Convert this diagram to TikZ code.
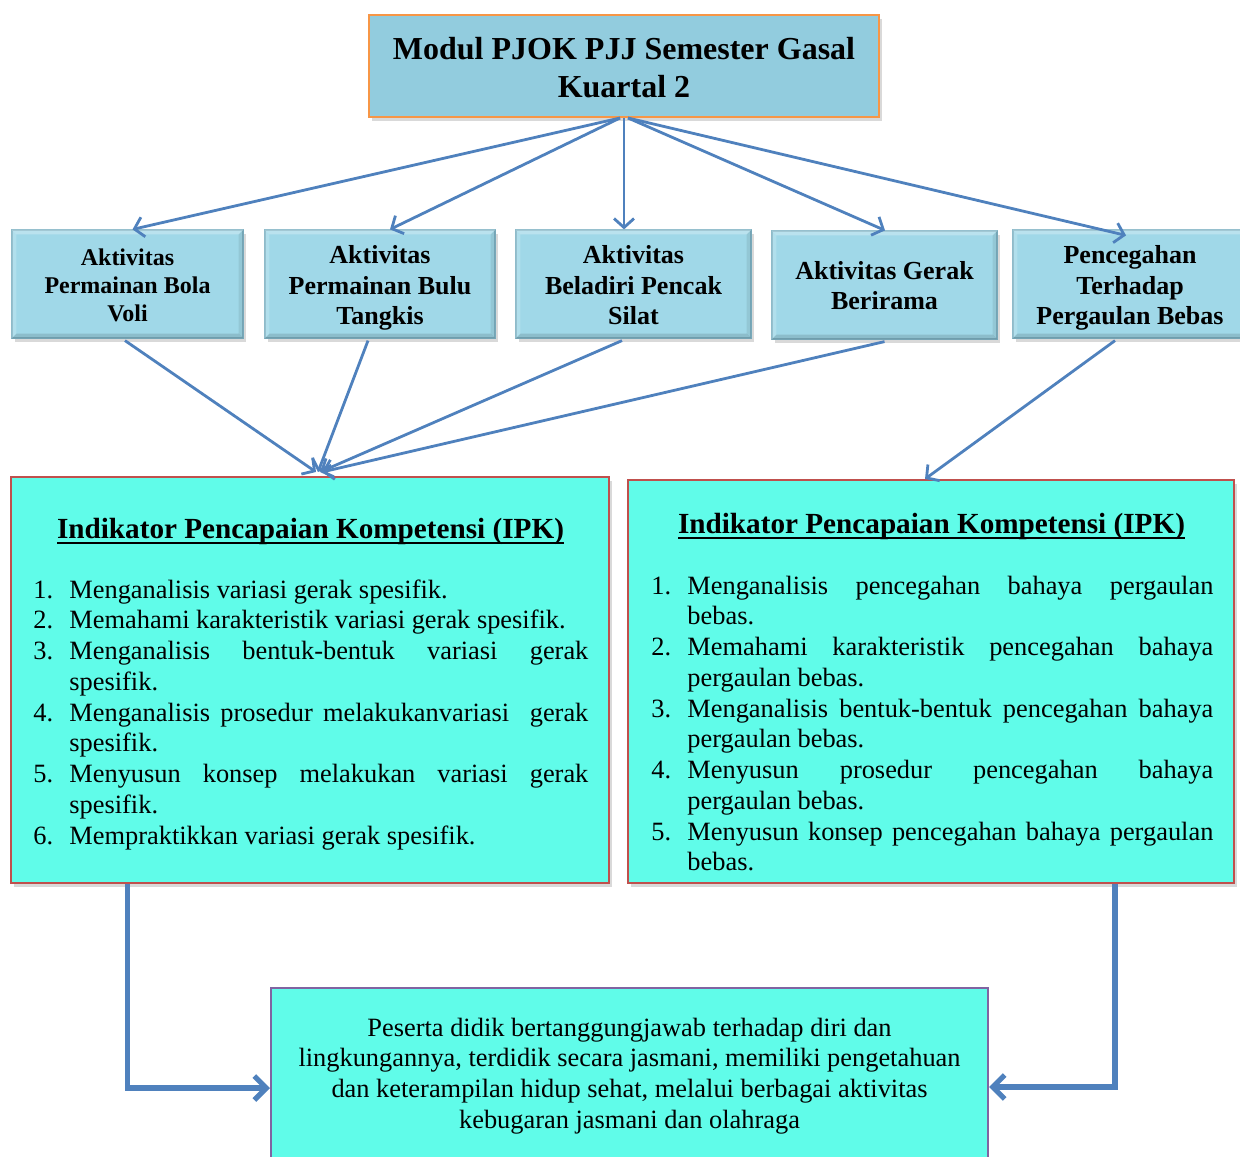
\documentclass[tikz,border=0pt]{standalone}
\usepackage{fontspec}
\setmainfont{Liberation Serif}
\usetikzlibrary{arrows.meta,shadows,calc}
\definecolor{arrowblue}{HTML}{4F81BD}
\definecolor{titlefill}{HTML}{92CCDE}
\definecolor{orangeb}{HTML}{F79646}
\definecolor{actfill}{HTML}{A0D8E8}
\definecolor{actborder}{HTML}{7FB3C4}
\definecolor{aquafill}{HTML}{60FCE9}
\definecolor{redb}{HTML}{C0504D}
\definecolor{purpleb}{HTML}{8064A2}
\newcommand\ipkOne[2]{\noindent\makebox[18pt][l]{#1}#2\par}
\newcommand\ipkTwo[3]{\noindent\makebox[18pt][l]{#1}\makebox[\ipkw][s]{#2}\par\noindent\hspace*{18pt}#3\par}
\newcommand\ipkw{259.5pt}
\newcommand\thickul[1]{\setbox0\hbox{#1}\rlap{\rule[-3.2pt]{\wd0}{1.4pt}}\box0}
\begin{document}
\begin{tikzpicture}[x=0.5pt,y=-0.5pt,
  shad/.style={drop shadow={opacity=0.3,shadow xshift=1.5pt,shadow yshift=-1.8pt}},
  titlebox/.style={shad,draw=orangeb,line width=1pt,fill=titlefill,minimum width=255pt,minimum height=51pt,inner sep=0pt},
  titletxt/.style={inner sep=0pt,align=center,font=\bfseries\fontsize{16}{19}\selectfont},
  actbox/.style={shad,draw=actborder,line width=0.6pt,fill=actfill,minimum height=54pt,inner sep=0pt},
  acttxt/.style={inner sep=0pt,align=center,font=\bfseries\fontsize{13}{15.25}\selectfont},
  ipkbox/.style={shad,draw=redb,line width=1pt,fill=aquafill,inner sep=0pt},
  outbox/.style={draw=purpleb,line width=1pt,fill=aquafill,inner sep=0pt},
  headtxt/.style={anchor=base,inner sep=0pt,font=\bfseries\fontsize{14.6}{17}\selectfont},
  listtxt/.style={anchor=base west,inner sep=0pt,font=\fontsize{13.2}{15.375}\selectfont},
  arr/.style={draw=arrowblue,line width=1.4pt,-{Straight Barb[length=4.5pt,width=10pt]}},
  thickarr/.style={draw=arrowblue,line width=2.6pt,-{Straight Barb[length=6pt,width=12pt]}}
]
\useasboundingbox (0,0) rectangle (1240,1156);

% title
\node[titlebox] (t) at (624,66) {};
\node[titletxt] (tt) at (624,68) {Modul PJOK PJJ Semester Gasal\\Kuartal 2};

% activity boxes
\node[actbox,minimum width=115.5pt] (b1) at (127.5,284) {};
\node[actbox,minimum width=115pt] (b2) at (380,284) {};
\node[actbox,minimum width=117.5pt] (b3) at (633.5,284) {};
\node[actbox,minimum width=112.5pt] (b4) at (884.5,285) {};
\node[actbox,minimum width=117pt] (b5) at (1130,284) {};

% bevel
\foreach \n in {b1,b2,b3,b4,b5}{
  \fill[white,opacity=0.28] (\n.north west) -- (\n.north east) -- ([shift={(-2.5pt,-2.5pt)}]\n.north east) -- ([shift={(2.5pt,-2.5pt)}]\n.north west) -- cycle;
  \fill[white,opacity=0.18] (\n.north west) -- (\n.south west) -- ([shift={(2.5pt,2.5pt)}]\n.south west) -- ([shift={(2.5pt,-2.5pt)}]\n.north west) -- cycle;
  \fill[black,opacity=0.12] (\n.south west) -- (\n.south east) -- ([shift={(-2.5pt,2.5pt)}]\n.south east) -- ([shift={(2.5pt,2.5pt)}]\n.south west) -- cycle;
  \fill[black,opacity=0.08] (\n.north east) -- (\n.south east) -- ([shift={(-2.5pt,2.5pt)}]\n.south east) -- ([shift={(-2.5pt,-2.5pt)}]\n.north east) -- cycle;
}

\node[acttxt,font=\bfseries\fontsize{12}{14}\selectfont] (b1t) at (127.5,285) {Aktivitas\\Permainan Bola\\Voli};
\node[acttxt] (b2t) at (380,288) {Aktivitas\\Permainan Bulu\\Tangkis};
\node[acttxt] (b3t) at (633.5,285.5) {Aktivitas\\Beladiri Pencak\\Silat};
\node[acttxt] (b4t) at (884.5,285.5) {Aktivitas Gerak\\Berirama};
\node[acttxt] (b5t) at (1130,288) {Pencegahan\\Terhadap\\Pergaulan Bebas};

% IPK boxes
\node[ipkbox,minimum width=299pt,minimum height=203pt] (ipkL) at (310,680) {};
\node[ipkbox,minimum width=303pt,minimum height=201.5pt] (ipkR) at (931,681.5) {};

\node[headtxt] (hL) at (310.5,538) {\thickul{Indikator Pencapaian Kompetensi (IPK)}};
\node[headtxt] (hR) at (931.5,533) {\thickul{Indikator Pencapaian Kompetensi (IPK)}};

\node[listtxt] (listL) at (33,598) {\begin{minipage}[t]{277.5pt}\parskip=0pt\renewcommand\ipkw{259.5pt}%
\ipkOne{1.}{Menganalisis variasi gerak spesifik.}
\ipkOne{2.}{Memahami karakteristik variasi gerak spesifik.}
\ipkTwo{3.}{Menganalisis bentuk-bentuk variasi gerak}{spesifik.}
\ipkTwo{4.}{Menganalisis prosedur melakukanvariasi\ \ gerak}{spesifik.}
\ipkTwo{5.}{Menyusun konsep melakukan variasi gerak}{spesifik.}
\ipkOne{6.}{Mempraktikkan variasi gerak spesifik.}
\end{minipage}};

\node[listtxt] (listR) at (651,594) {\begin{minipage}[t]{281pt}\parskip=0pt\renewcommand\ipkw{263pt}%
\ipkTwo{1.}{Menganalisis pencegahan bahaya pergaulan}{bebas.}
\ipkTwo{2.}{Memahami karakteristik pencegahan bahaya}{pergaulan bebas.}
\ipkTwo{3.}{Menganalisis bentuk-bentuk pencegahan bahaya}{pergaulan bebas.}
\ipkTwo{4.}{Menyusun prosedur pencegahan bahaya}{pergaulan bebas.}
\ipkTwo{5.}{Menyusun konsep pencegahan bahaya pergaulan}{bebas.}
\end{minipage}};

% bottom box
\node[outbox,minimum width=358.5pt,minimum height=91pt] (out) at (629.5,1079) {};
\node[listtxt,anchor=base] (outtxt) at (629.5,1036) {\begin{minipage}[t]{350pt}\centering
Peserta didik bertanggungjawab terhadap diri dan\\
lingkungannya, terdidik secara jasmani, memiliki pengetahuan\\
dan keterampilan hidup sehat, melalui berbagai aktivitas\\
kebugaran jasmani dan olahraga
\end{minipage}};

% arrows from title
\draw[arr] ([xshift=-2pt]t.south) -- ([xshift=2.5pt]b1.north);
\draw[arr] ([xshift=-2pt]t.south) -- ([xshift=5pt]b2.north);
\draw[arr] (t.south) -- ([xshift=-4.75pt]b3.north);
\draw[arr] ([xshift=2pt]t.south) -- ([xshift=0.25pt]b4.north);
\draw[arr] ([xshift=2pt]t.south) -- ([xshift=-2pt,yshift=-3pt]b5.north);

% arrows to IPK
\draw[arr] ([xshift=-1.25pt,yshift=-1pt]b1.south) -- ([xshift=3pt,yshift=2pt]ipkL.north);
\draw[arr] ([xshift=-6pt,yshift=-1pt]b2.south) -- ([xshift=4pt,yshift=2pt]ipkL.north);
\draw[arr] ([xshift=-5.75pt,yshift=-1pt]b3.south) -- ([xshift=5pt,yshift=2pt]ipkL.north);
\draw[arr] ([yshift=-1pt]b4.south) -- ([xshift=6pt,yshift=2pt]ipkL.north);
\draw[arr] ([xshift=-7.5pt,yshift=-1pt]b5.south) -- ([xshift=-3pt]ipkR.north);

% thick connectors
\coordinate (cL) at (b1.south |- ipkL.south);
\coordinate (cR) at ([xshift=-7.5pt]b5.south |- ipkR.south);
\draw[thickarr] (cL) |- ([yshift=-4.5pt]out.west);
\draw[thickarr] (cR) |- ([yshift=-4pt]out.east);
\end{tikzpicture}
\end{document}
